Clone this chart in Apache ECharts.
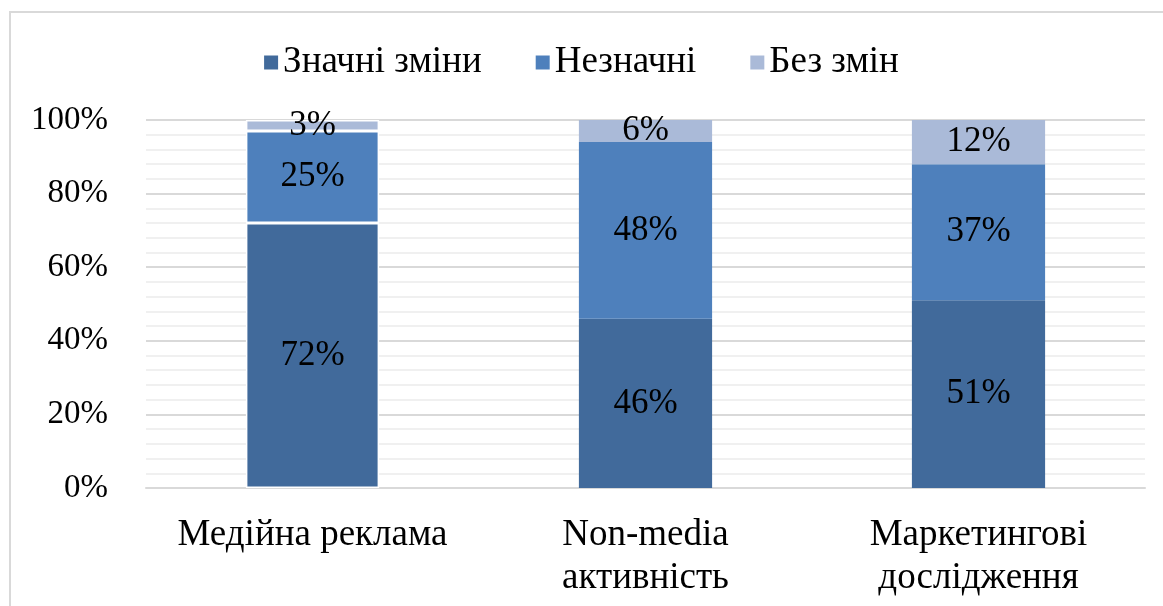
<!DOCTYPE html>
<html>
<head>
<meta charset="utf-8">
<script src="https://cdn.jsdelivr.net/npm/echarts@6/dist/echarts.min.js"></script>
<style>
  html, body { margin: 0; padding: 0; background: #fff; }
  #chart { width: 1163px; height: 606px; }
</style>
</head>
<body>
<div id="chart"></div>
<script>
// Категорії та значення (у відсотках)
const categories = ['Медійна реклама', 'Non-media\nактивність', 'Маркетингові\nдослідження'];
const seriesNames = ['Значні зміни', 'Незначні', 'Без змін'];
const significant = [72, 46, 51];
const minor = [25, 48, 37];
const noChange = [3, 6, 12];

const colors = ['#416a9b', '#4e80bc', '#aabad8'];
const font = '"Liberation Serif", "Times New Roman", serif';

// Перший стовпчик має білі розділювачі між сегментами
function withBorders(values) {
    return values.map((v, i) => i === 0
        ? { value: v, itemStyle: { borderColor: '#fff', borderWidth: 1.5 } }
        : v);
}

function makeSeries(name, values, color) {
    return {
        name: name,
        type: 'bar',
        stack: 'total',
        barWidth: '40%',
        data: withBorders(values),
        itemStyle: { color: color },
        label: {
            show: true,
            position: 'inside',
            formatter: '{c}%',
            fontFamily: font,
            fontSize: 35,
            color: '#000'
        },
        emphasis: { disabled: true }
    };
}

const chart = echarts.init(document.getElementById('chart'));
chart.setOption({
    animation: false,
    color: colors,
    graphic: [{
        type: 'rect',
        shape: { x: 10, y: 12, width: 1170, height: 620 },
        style: { fill: 'none', stroke: '#d9d9d9', lineWidth: 2 },
        silent: true
    }],
    legend: {
        top: 39,
        left: 'center',
        itemWidth: 14,
        itemHeight: 14,
        itemGap: 54,
        icon: 'rect',
        textStyle: { fontFamily: font, fontSize: 37, color: '#000' },
        data: seriesNames
    },
    grid: { left: 146, right: 18, top: 120, bottom: 118, containLabel: false },
    xAxis: {
        type: 'category',
        data: categories,
        axisLine: { lineStyle: { color: '#d9d9d9', width: 2 } },
        axisTick: { show: false },
        axisLabel: {
            interval: 0,
            hideOverlap: false,
            fontFamily: font,
            fontSize: 37,
            color: '#000',
            margin: 26,
            lineHeight: 43
        }
    },
    yAxis: {
        type: 'value',
        min: 0,
        max: 100,
        interval: 20,
        axisLine: { show: false },
        axisTick: { show: false },
        axisLabel: {
            formatter: '{value}%',
            fontFamily: font,
            fontSize: 33,
            color: '#000',
            margin: 38
        },
        splitLine: { lineStyle: { color: '#d9d9d9', width: 2 } },
        minorTick: { show: false, splitNumber: 5 },
        minorSplitLine: { show: true, lineStyle: { color: '#f0f0f0', width: 2 } }
    },
    series: [
        makeSeries(seriesNames[0], significant, colors[0]),
        makeSeries(seriesNames[1], minor, colors[1]),
        makeSeries(seriesNames[2], noChange, colors[2])
    ]
});
</script>
</body>
</html>
